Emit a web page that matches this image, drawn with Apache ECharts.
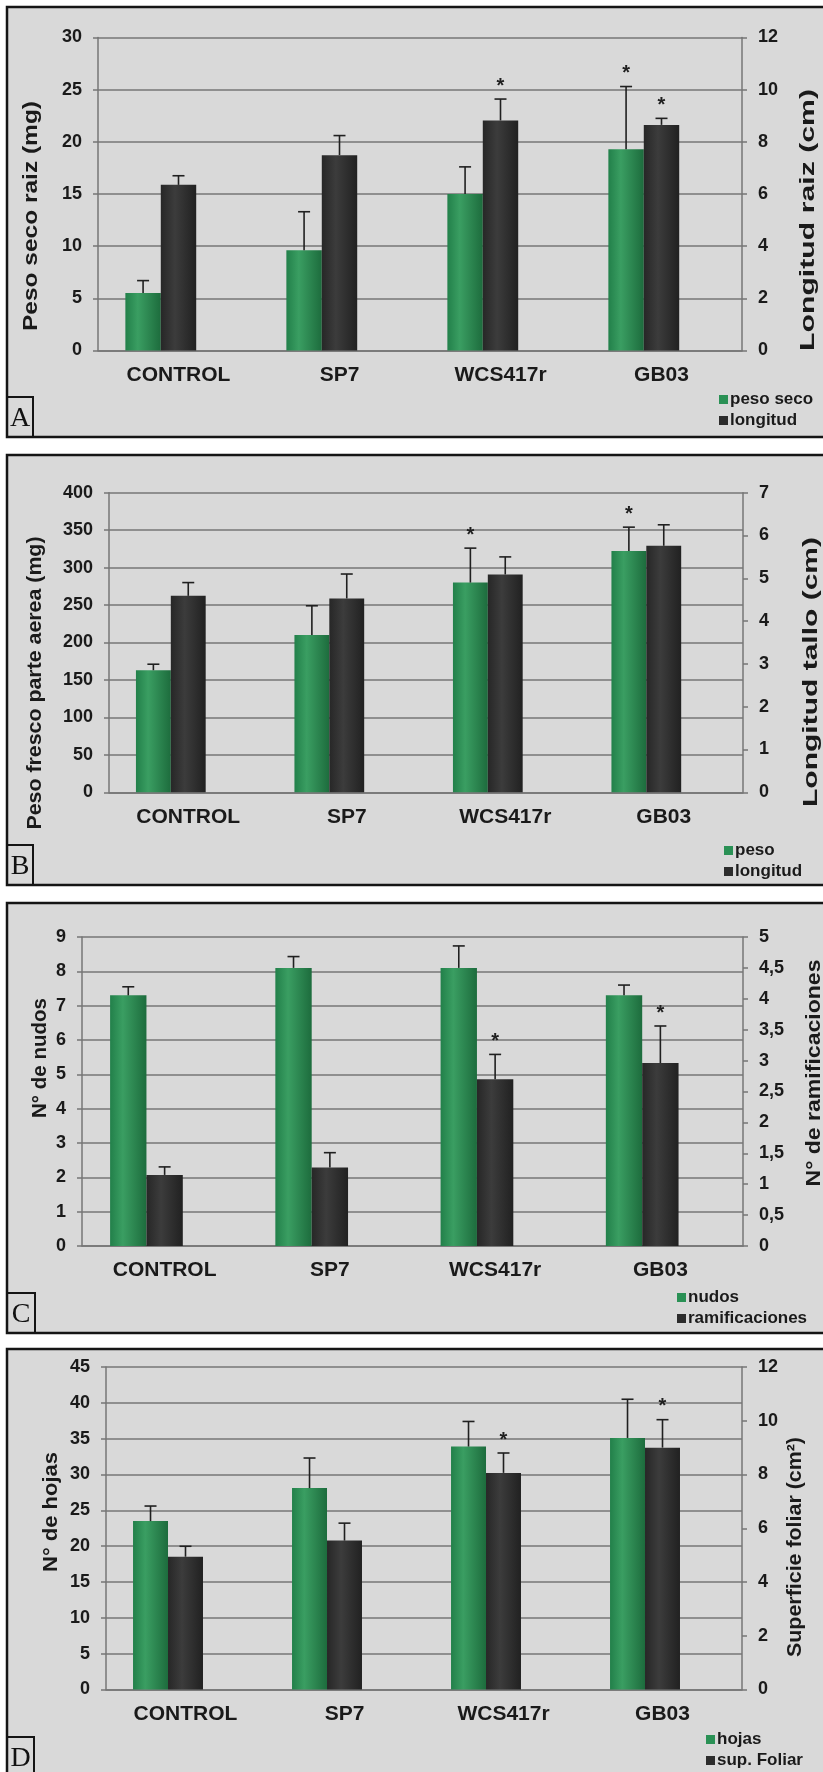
<!DOCTYPE html>
<html><head><meta charset="utf-8">
<script src="https://cdn.jsdelivr.net/npm/echarts@6/dist/echarts.min.js"></script>
<style>html,body{margin:0;padding:0;background:#fff;overflow:hidden}#c{width:823px;height:1772px}</style>
</head><body><div id="c"></div><script>
// ---------------- DATA ----------------
const categories = ['CONTROL', 'SP7', 'WCS417r', 'GB03'];

// Panel A
const A_pesoSeco      = [5.5, 9.6, 15.0, 19.3];
const A_pesoSecoErr   = [1.2, 3.7, 2.6, 6.0];
const A_pesoSecoSig   = [0, 0, 0, 1];
const A_longitud      = [6.35, 7.49, 8.82, 8.65];
const A_longitudErr   = [0.35, 0.75, 0.82, 0.25];
const A_longitudSig   = [0, 0, 1, 1];
const A_leftTicks     = [0, 5, 10, 15, 20, 25, 30];
const A_rightTicks    = [0, 2, 4, 6, 8, 10, 12];

// Panel B
const B_peso          = [163, 210, 280, 322];
const B_pesoErr       = [8, 39, 46, 32];
const B_pesoSig       = [0, 0, 1, 1];
const B_longitud      = [4.59, 4.53, 5.09, 5.76];
const B_longitudErr   = [0.31, 0.57, 0.41, 0.49];
const B_longitudSig   = [0, 0, 0, 0];
const B_leftTicks     = [0, 50, 100, 150, 200, 250, 300, 350, 400];
const B_rightTicks    = [0, 1, 2, 3, 4, 5, 6, 7];

// Panel C
const C_nudos         = [7.3, 8.1, 8.1, 7.3];
const C_nudosErr      = [0.25, 0.33, 0.64, 0.3];
const C_nudosSig      = [0, 0, 0, 0];
const C_ramif         = [1.15, 1.27, 2.70, 2.96];
const C_ramifErr      = [0.13, 0.24, 0.40, 0.60];
const C_ramifSig      = [0, 0, 1, 1];
const C_leftTicks     = [0, 1, 2, 3, 4, 5, 6, 7, 8, 9];
const C_rightTicks    = [0, 0.5, 1, 1.5, 2, 2.5, 3, 3.5, 4, 4.5, 5];

// Panel D
const D_hojas         = [23.5, 28.1, 33.9, 35.1];
const D_hojasErr      = [2.1, 4.2, 3.5, 5.4];
const D_hojasSig      = [0, 0, 0, 0];
const D_sup           = [4.94, 5.54, 8.06, 9.0];
const D_supErr        = [0.39, 0.65, 0.74, 1.04];
const D_supSig        = [0, 0, 1, 1];
const D_leftTicks     = [0, 5, 10, 15, 20, 25, 30, 35, 40, 45];
const D_rightTicks    = [0, 2, 4, 6, 8, 10, 12];

const panels = [
  { letter: 'A', gName: 'peso seco', g: A_pesoSeco, gErr: A_pesoSecoErr, gSig: A_pesoSecoSig,
    dName: 'longitud', d: A_longitud, dErr: A_longitudErr, dSig: A_longitudSig,
    lt: A_leftTicks, rt: A_rightTicks, lTitle: 'Peso seco raiz (mg)', rTitle: 'Longitud raiz (cm)', comma: false },
  { letter: 'B', gName: 'peso', g: B_peso, gErr: B_pesoErr, gSig: B_pesoSig,
    dName: 'longitud', d: B_longitud, dErr: B_longitudErr, dSig: B_longitudSig,
    lt: B_leftTicks, rt: B_rightTicks, lTitle: 'Peso fresco parte aerea (mg)', rTitle: 'Longitud tallo (cm)', comma: false },
  { letter: 'C', gName: 'nudos', g: C_nudos, gErr: C_nudosErr, gSig: C_nudosSig,
    dName: 'ramificaciones', d: C_ramif, dErr: C_ramifErr, dSig: C_ramifSig,
    lt: C_leftTicks, rt: C_rightTicks, lTitle: 'N° de nudos', rTitle: 'N° de ramificaciones', comma: true },
  { letter: 'D', gName: 'hojas', g: D_hojas, gErr: D_hojasErr, gSig: D_hojasSig,
    dName: 'sup. Foliar', d: D_sup, dErr: D_supErr, dSig: D_supSig,
    lt: D_leftTicks, rt: D_rightTicks, lTitle: 'N° de hojas', rTitle: 'Superficie foliar (cm²)', comma: true }
];

// ---------------- LAYOUT ----------------
const layout = [
  { frameY: 7,    plot: [98, 37.5, 742, 350.5],  box: [7, 397, 26, 40],  legend: [719, 391],
    lT: [31, 216, 230], rT: [808, 220, 262] },
  { frameY: 455,  plot: [109, 492.7, 743, 792.3], box: [7, 845, 26, 40], legend: [724, 842],
    lT: [35, 683, 293], rT: [811, 672, 270] },
  { frameY: 903,  plot: [82, 937, 743, 1246],    box: [7, 1293, 28, 40], legend: [677, 1289],
    lT: [40, 1058, 120], rT: [814, 1073, 227] },
  { frameY: 1349, plot: [106, 1367, 742, 1689.5], box: [7, 1737, 27, 40], legend: [706, 1731],
    lT: [51, 1512, 120], rT: [795, 1547, 220] }
];

const FONT = '"Liberation Sans", Arial, sans-serif';
const INK = '#1a1a1a';
const GRID = '#767676';
const BAR_W = 0.22;
const greenFill = { type: 'linear', x: 0, y: 0, x2: 1, y2: 0, colorStops: [
  { offset: 0, color: '#22804a' }, { offset: 0.35, color: '#3a9e62' }, { offset: 1, color: '#1d6c3d' }] };
const darkFill = { type: 'linear', x: 0, y: 0, x2: 1, y2: 0, colorStops: [
  { offset: 0, color: '#272727' }, { offset: 0.4, color: '#3c3c3c' }, { offset: 1, color: '#212121' }] };

const mctx = document.createElement('canvas').getContext('2d');
const TITLE_FONT = 'bold 21px ' + FONT;
mctx.font = TITLE_FONT;

function errRender(slot) {
  return function (params, api) {
    const cat = api.value(0), v = api.value(1), e = api.value(2), sig = api.value(3);
    const band = api.size([1, 0])[0];
    const bw = band * BAR_W;
    const p0 = api.coord([cat, v]);
    const p1 = api.coord([cat, v + e]);
    const x = p0[0] + (slot - 1) * bw;
    const st = { stroke: '#202020', lineWidth: 1.6 };
    const ch = [
      { type: 'line', shape: { x1: x, y1: p0[1], x2: x, y2: p1[1] }, style: st },
      { type: 'line', shape: { x1: x - 6, y1: p1[1], x2: x + 6, y2: p1[1] }, style: st }
    ];
    if (sig) ch.push({ type: 'text', x: x, y: p1[1] - 3,
      style: { text: '*', fill: '#202020', font: 'bold 20px ' + FONT, align: 'center', verticalAlign: 'bottom' } });
    return { type: 'group', children: ch };
  };
}

const option = { animation: false, backgroundColor: '#ffffff',
  grid: [], xAxis: [], yAxis: [], series: [], legend: [], graphic: [] };

panels.forEach((p, i) => {
  const L = layout[i];
  const [x0, y0, x1, y1] = L.plot;
  option.grid.push({ left: x0, top: y0, width: x1 - x0, height: y1 - y0 });
  option.xAxis.push({ type: 'category', gridIndex: i, data: categories,
    axisLine: { lineStyle: { color: GRID, width: 1.5 } },
    axisTick: { length: 5, lineStyle: { color: GRID, width: 1.5 } },
    axisLabel: { fontFamily: FONT, fontWeight: 'bold', fontSize: 21, color: INK, margin: 14 } });
  const fmt = p.comma ? (v => String(v).replace('.', ',')) : (v => String(v));
  option.yAxis.push({ type: 'value', gridIndex: i, position: 'left',
    min: p.lt[0], max: p.lt[p.lt.length - 1], interval: p.lt[1] - p.lt[0],
    axisLine: { show: true, lineStyle: { color: GRID, width: 1.5 } },
    axisTick: { show: true, length: 5, lineStyle: { color: GRID, width: 1.5 } },
    splitLine: { show: true, lineStyle: { color: GRID, width: 1.6 } },
    axisLabel: { fontFamily: FONT, fontWeight: 'bold', fontSize: 18, color: INK, margin: 16 } });
  option.yAxis.push({ type: 'value', gridIndex: i, position: 'right',
    min: p.rt[0], max: p.rt[p.rt.length - 1], interval: p.rt[1] - p.rt[0],
    axisLine: { show: true, lineStyle: { color: GRID, width: 1.5 } },
    axisTick: { show: true, length: 5, lineStyle: { color: GRID, width: 1.5 } },
    splitLine: { show: false },
    axisLabel: { fontFamily: FONT, fontWeight: 'bold', fontSize: 18, color: INK, margin: 16, formatter: fmt } });
  const ly = 2 * i, ry = 2 * i + 1;
  option.series.push({ type: 'bar', name: p.gName, xAxisIndex: i, yAxisIndex: ly, data: p.g,
    barWidth: (BAR_W * 100) + '%', barGap: '0%', itemStyle: { color: greenFill } });
  option.series.push({ type: 'bar', name: p.dName, xAxisIndex: i, yAxisIndex: ry, data: p.d,
    barWidth: (BAR_W * 100) + '%', barGap: '0%', itemStyle: { color: darkFill } });
  option.series.push({ type: 'bar', name: 'empty-' + i, xAxisIndex: i, yAxisIndex: ry,
    data: categories.map(() => '-'), barWidth: (BAR_W * 100) + '%', barGap: '0%' });
  option.series.push({ type: 'custom', name: p.gName + ' err', xAxisIndex: i, yAxisIndex: ly, z: 5,
    renderItem: errRender(0), data: p.g.map((v, k) => [k, v, p.gErr[k], p.gSig[k]]) });
  option.series.push({ type: 'custom', name: p.dName + ' err', xAxisIndex: i, yAxisIndex: ry, z: 5,
    renderItem: errRender(1), data: p.d.map((v, k) => [k, v, p.dErr[k], p.dSig[k]]) });
  option.legend.push({ orient: 'vertical', left: L.legend[0], top: L.legend[1], padding: 0,
    itemWidth: 9, itemHeight: 9, itemGap: 4, icon: 'rect',
    textStyle: { fontFamily: FONT, fontWeight: 'bold', fontSize: 17, color: INK, padding: [0, 0, 0, -3] },
    data: [{ name: p.gName, itemStyle: { color: '#2a9155' } }, { name: p.dName, itemStyle: { color: '#2c2c2c' } }] });
  // frame
  option.graphic.push({ type: 'rect', z: -10, shape: { x: 7, y: L.frameY, width: 900, height: 430 },
    style: { fill: '#d9d9d9', stroke: '#151515', lineWidth: 2.5 } });
  // letter box
  const b = L.box;
  option.graphic.push({ type: 'rect', z: 10, shape: { x: b[0], y: b[1], width: b[2], height: b[3] },
    style: { fill: 'rgba(0,0,0,0)', stroke: '#151515', lineWidth: 2 } });
  option.graphic.push({ type: 'text', z: 11, x: b[0] + b[2] / 2, y: b[1] + b[3] / 2 + 2,
    style: { text: p.letter, font: '28px "Liberation Serif", "DejaVu Serif", serif', fill: '#111', align: 'center', verticalAlign: 'middle' } });
  // axis titles
  [[p.lTitle, L.lT], [p.rTitle, L.rT]].forEach(([t, pos]) => {
    const w = mctx.measureText(t).width;
    option.graphic.push({ type: 'text', z: 11, x: pos[0], y: pos[1], rotation: Math.PI / 2, scaleX: pos[2] / w,
      style: { text: t, font: TITLE_FONT, fill: INK, align: 'center', verticalAlign: 'middle' } });
  });
});

const chart = echarts.init(document.getElementById('c'), null, { renderer: 'canvas' });
chart.setOption(option);
</script></body></html>
